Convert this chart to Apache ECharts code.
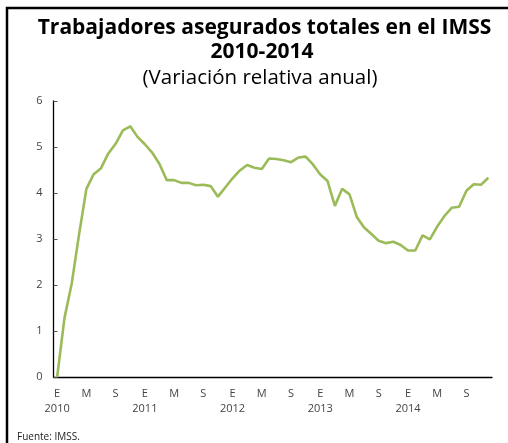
<!DOCTYPE html>
<html><head><meta charset="utf-8">
<script src="https://cdn.jsdelivr.net/npm/echarts@6/dist/echarts.min.js"></script>
<style>html,body{margin:0;padding:0;background:#fff}#c{width:508px;height:443px}</style>
</head><body><div id="c"></div>
<script>
const years = ['2010','2011','2012','2013','2014'];
const monthInitials = ['E','F','M','A','M','J','J','A','S','O','N','D'];
const values = [
  0.00, 1.28, 2.04, 3.10, 4.09, 4.41, 4.54, 4.86, 5.07, 5.36, 5.45, 5.22,
  5.06, 4.88, 4.63, 4.28, 4.28, 4.22, 4.22, 4.17, 4.18, 4.15, 3.92, 4.12,
  4.32, 4.49, 4.61, 4.55, 4.52, 4.75, 4.74, 4.71, 4.67, 4.77, 4.79, 4.62,
  4.40, 4.26, 3.72, 4.09, 3.97, 3.48, 3.25, 3.11, 2.96, 2.91, 2.94, 2.87,
  2.75, 2.75, 3.08, 2.99, 3.27, 3.50, 3.68, 3.70, 4.05, 4.19, 4.18, 4.33
];
const yTicks = [0,1,2,3,4,5,6];
const titleText = 'Trabajadores asegurados totales en el IMSS';
const subTitleYears = '2010-2014';
const subText = '(Variación relativa anual)';
const sourceText = 'Fuente: IMSS.';

const categories = [];
years.forEach(y => monthInitials.forEach((m, i) => categories.push(m + '|' + y + '|' + i)));

const labelFmt = (v) => {
  const [m, y, i] = v.split('|');
  const idx = +i;
  if (idx === 0) return m + '\n' + y;
  if (idx === 4 || idx === 8) return m;
  return '';
};
const showLabel = (idx) => idx % 4 === 0;

const font = 'Open Sans';
const chart = echarts.init(document.getElementById('c'), null, {renderer: 'canvas'});
chart.setOption({
  animation: false,
  backgroundColor: '#fff',
  graphic: [
    {type: 'rect', shape: {x: 7, y: 8, width: 520, height: 460}, style: {fill: 'none', stroke: '#000', lineWidth: 2.5}},
    {type: 'text', x: 264.5, y: 28, style: {text: titleText, fontFamily: font, fontWeight: 'bold', fontSize: 21, fill: '#000', align: 'center', verticalAlign: 'middle'}},
    {type: 'text', x: 262, y: 52, style: {text: subTitleYears, fontFamily: font, fontWeight: 'bold', fontSize: 21, fill: '#000', align: 'center', verticalAlign: 'middle'}},
    {type: 'text', x: 260, y: 78, style: {text: subText, fontFamily: font, fontSize: 20.5, fill: '#000', align: 'center', verticalAlign: 'middle'}},
    {type: 'text', x: 17, y: 437, style: {text: sourceText, fontFamily: font, fontSize: 10, fill: '#222', align: 'left', verticalAlign: 'middle'}}
  ],
  grid: {left: 53.5, right: 16, top: 101, bottom: 66, containLabel: false},
  xAxis: [{
    type: 'category', data: categories, boundaryGap: true,
    axisLine: {lineStyle: {color: '#000', width: 1.3}},
    axisTick: {interval: (i) => i % 4 === 0, length: 3, lineStyle: {color: '#555', width: 1}},
    axisLabel: {interval: (i) => showLabel(i), formatter: labelFmt, color: '#444', fontSize: 11, fontFamily: font, lineHeight: 15, margin: 9}
  }, {
    type: 'category', data: categories, boundaryGap: true, position: 'bottom',
    axisLine: {show: false},
    axisTick: {interval: (i) => i % 4 === 0, inside: true, length: 3, lineStyle: {color: '#555', width: 1}},
    axisLabel: {show: false}
  }],
  yAxis: {
    type: 'value', min: yTicks[0], max: yTicks[yTicks.length-1], interval: 1,
    splitLine: {show: false},
    axisLine: {show: true, lineStyle: {color: '#000', width: 1.3}},
    axisTick: {show: true, inside: true, length: 4, lineStyle: {color: '#555'}},
    axisLabel: {color: '#444', fontSize: 11, fontFamily: font, margin: 11}
  },
  series: [{
    type: 'line', data: values, xAxisIndex: 0, showSymbol: false, symbol: 'none',
    lineStyle: {color: '#9BBB59', width: 2.6}, smooth: false
  }]
});
</script></body></html>
